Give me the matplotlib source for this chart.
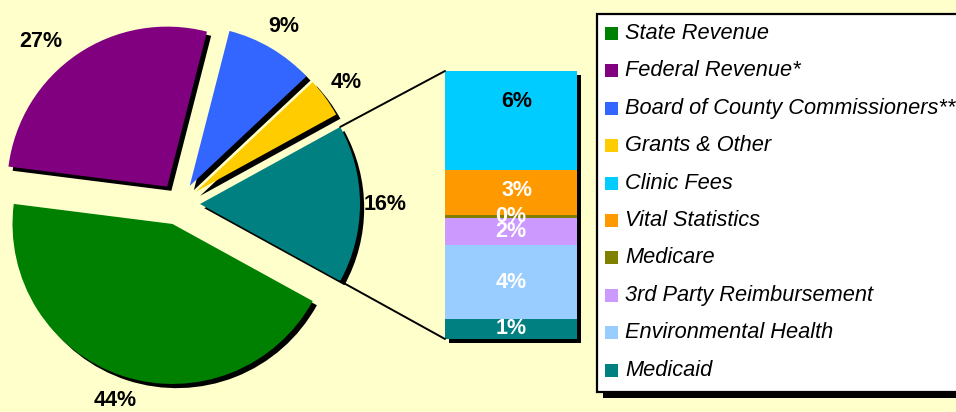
import matplotlib
matplotlib.use("Agg")
import matplotlib.pyplot as plt
from matplotlib.patches import Rectangle, ConnectionPatch
import matplotlib.patheffects as pe
from matplotlib.transforms import offset_copy
import numpy as np

plt.rcParams['font.family'] = ['Liberation Sans', 'DejaVu Sans']

# ---- data ----
pie_labels = ["Other (Clinic, Vital Stats, Medicare, 3rd Party, Env. Health, Medicaid)",
              "Grants & Other", "Board of County Commissioners**",
              "Federal Revenue*", "State Revenue"]
pie_values = [16, 4, 9, 27, 44]
pie_colors = ["#008080", "#FFCC00", "#3366FF", "#800080", "#008000"]

bar_labels = ["Medicaid", "Environmental Health", "3rd Party Reimbursement",
              "Medicare", "Vital Statistics", "Clinic Fees"]
bar_values = [1.2, 4.4, 1.6, 0.2, 2.7, 5.9]
bar_colors = ["#008080", "#99CCFF", "#CC99FF", "#808000", "#FF9900", "#00CCFF"]
bar_text_colors = ["white", "white", "white", "white", "white", "black"]

legend_labels = ["State Revenue", "Federal Revenue*", "Board of County Commissioners**",
                 "Grants & Other", "Clinic Fees", "Vital Statistics", "Medicare",
                 "3rd Party Reimbursement", "Environmental Health", "Medicaid"]
legend_colors = ["#008000", "#800080", "#3366FF", "#FFCC00", "#00CCFF",
                 "#FF9900", "#808000", "#CC99FF", "#99CCFF", "#008080"]

BG = "#FFFFCC"
W, H = 956, 412

fig = plt.figure(figsize=(W / 100, H / 100), dpi=100, facecolor=BG)

# main axes in pixel-like units
ax = fig.add_axes([0, 0, 1, 1])
ax.set_facecolor(BG)
shadow = [pe.withSimplePatchShadow(offset=(3, -3), shadow_rgbFace='black', alpha=1.0)]
start = -pie_values[0] / sum(pie_values) * 360 / 2
wedges, texts, autotexts = ax.pie(
    pie_values, colors=pie_colors, startangle=start, radius=160,
    center=(179, 208), explode=[21] * len(pie_values),
    autopct='%1.0f%%', pctdistance=1.16,
    wedgeprops=dict(linewidth=0, path_effects=shadow),
    textprops=dict(fontsize=15.5, fontweight='bold', color='black'))
# the "27%" label sits a little further round in the original
px, py = autotexts[3].get_position()
autotexts[3].set_position((px - 22, py - 8))
ax.set_xlim(0, W)
ax.set_ylim(0, H)
ax.set_aspect('equal')
ax.axis('off')

# stacked bar of the "other" slice
total = sum(bar_values)
ax2 = fig.add_axes([445 / W, 73 / H, 132 / W, 268 / H])
ax2.set_xlim(-0.5, 0.5)
ax2.set_ylim(0, total)
ax2.axis('off')
ax2.bar(0, total, width=1, color='black', zorder=0, clip_on=False,
        transform=offset_copy(ax2.transData, fig=fig, x=4, y=-4, units='dots'))
bottoms = np.concatenate([[0], np.cumsum(bar_values)[:-1]])
ax2.bar([0] * len(bar_values), bar_values, bottom=bottoms, width=1,
        color=bar_colors, linewidth=0, zorder=1, clip_on=False)
label_frac = [0.5, 0.5, 0.5, 0.5, 0.55, 0.69]
label_dx = [0, 0, 0, 0, 0.045, 0.045]
for v, b, tc, fr, dx in zip(bar_values, bottoms, bar_text_colors, label_frac, label_dx):
    ax2.text(dx, b + v * fr, f"{v:.0f}%", ha='center', va='center',
             fontsize=15.5, fontweight='bold', color=tc, zorder=3)

# connector lines
w = wedges[0]
cx, cy = w.center
r = w.r
up = (cx + r * np.cos(np.radians(w.theta2)), cy + r * np.sin(np.radians(w.theta2)))
lo = (cx + r * np.cos(np.radians(w.theta1)), cy + r * np.sin(np.radians(w.theta1)))
for pa, pb in [(up, (-0.5, total)), (lo, (-0.5, 0))]:
    con = ConnectionPatch(xyA=pa, coordsA=ax.transData, xyB=pb, coordsB=ax2.transData,
                          color='black', lw=1.4, zorder=5)
    fig.add_artist(con)

# legend box
ax.add_patch(Rectangle((603, 14), 400, 378, facecolor='black', edgecolor='none',
                       zorder=6, clip_on=False))
ax.add_patch(Rectangle((597, 20), 400, 378, facecolor='white', edgecolor='black',
                       lw=1.6, zorder=7, clip_on=False))
for i, (lab, col) in enumerate(zip(legend_labels, legend_colors)):
    y = H - (33.5 + 37.4 * i)
    ax.add_patch(Rectangle((605, y - 6.5), 13, 13, facecolor=col, edgecolor='none',
                           zorder=8))
    ax.text(625, y, lab, ha='left', va='center', fontsize=15.7, fontstyle='italic',
            color='black', zorder=9)

fig.savefig("out.png", dpi=100, facecolor=BG)
